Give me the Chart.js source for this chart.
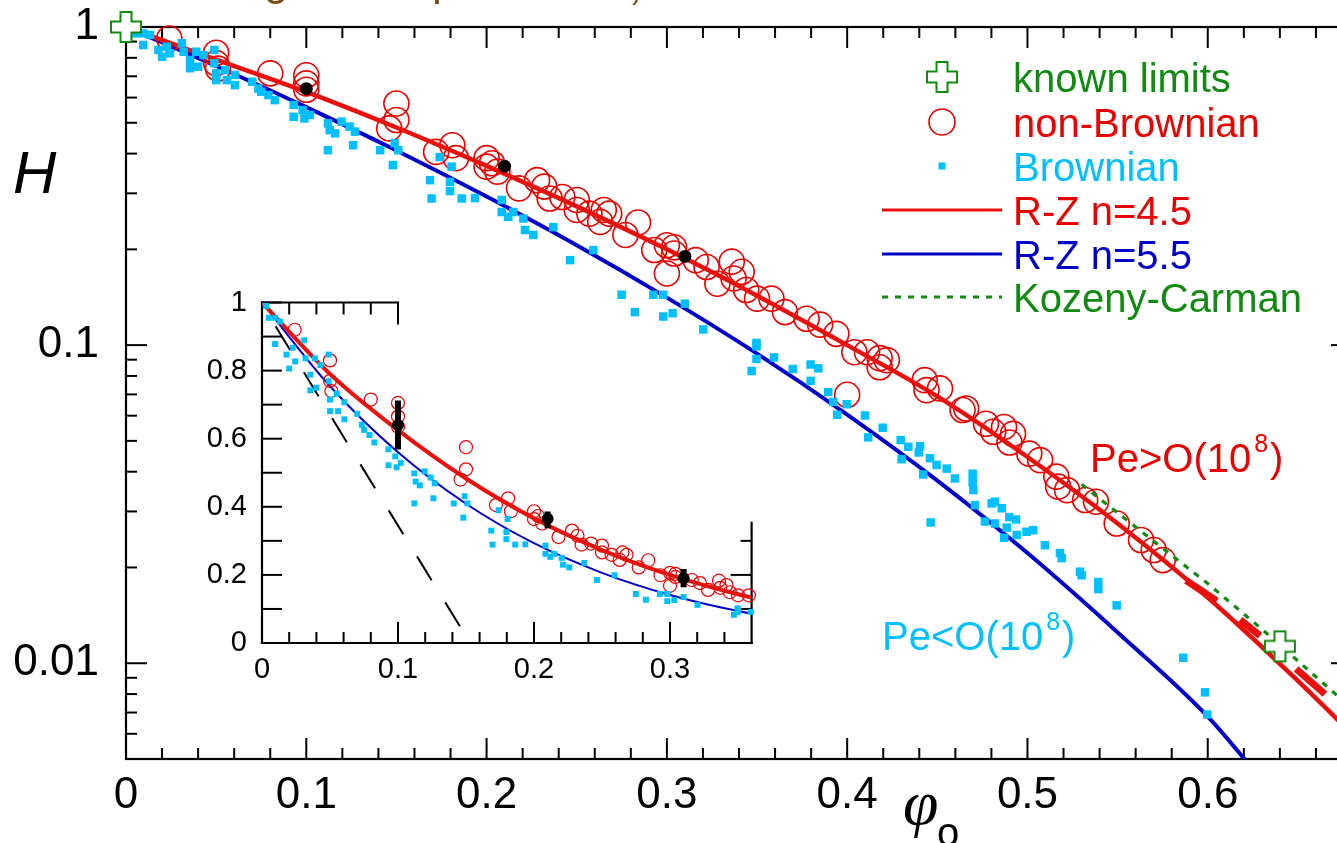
<!DOCTYPE html>
<html>
<head>
<meta charset="utf-8">
<title>Hindered settling function H</title>
<script src="https://cdn.jsdelivr.net/npm/chart.js@4.4.1/dist/chart.umd.min.js"></script>
<style>
  html, body { margin: 0; padding: 0; background: #fff; overflow: hidden; }
  #wrap { position: relative; width: 1337px; height: 843px; overflow: hidden; }
  #mainChart { position: absolute; left: 0; top: 0; }
  #insetChart { position: absolute; left: 180px; top: 270px; }
</style>
</head>
<body>
<div id="wrap">
  <canvas id="mainChart" width="1380" height="843"></canvas>
  <canvas id="insetChart" width="620" height="430"></canvas>
</div>
<script>
// ---- data (phi = volume fraction, H = hindered settling function) ----

// tick labels
const xTicks = [0, 0.1, 0.2, 0.3, 0.4, 0.5, 0.6];
const yTicks = [0.01, 0.1, 1];
const insetXTicks = [0, 0.1, 0.2, 0.3];
const insetYTicks = [0, 0.2, 0.4, 0.6, 0.8, 1];

// known limits
const knownPhi = [0, 0.64];
const knownH = [1, 0.0113];

// non-Brownian (open circles)
const nbPhi = [0.024, 0.050, 0.050, 0.051, 0.080, 0.100, 0.100, 0.100, 0.150, 0.150,
  0.146, 0.172, 0.181, 0.183, 0.200, 0.200, 0.203, 0.206, 0.218, 0.228,
  0.232, 0.235, 0.242, 0.250, 0.250, 0.257, 0.265, 0.263, 0.268, 0.277,
  0.284, 0.293, 0.300, 0.300, 0.304, 0.304, 0.316, 0.322, 0.328, 0.336,
  0.337, 0.3415, 0.344, 0.350, 0.358, 0.3655, 0.3775, 0.385, 0.394, 0.404,
  0.411, 0.418, 0.422, 0.418, 0.400, 0.443, 0.444, 0.4515, 0.464, 0.466,
  0.477, 0.481, 0.487, 0.490, 0.492, 0.501, 0.507, 0.516, 0.517, 0.522,
  0.532, 0.538, 0.5495, 0.563, 0.570, 0.575];
const nbH = [0.92, 0.83, 0.77, 0.74, 0.715, 0.705, 0.665, 0.635, 0.575, 0.51,
  0.48, 0.405, 0.425, 0.387, 0.387, 0.364, 0.373, 0.351, 0.311, 0.33,
  0.315, 0.289, 0.292, 0.286, 0.266, 0.259, 0.266, 0.244, 0.259, 0.222,
  0.243, 0.199, 0.206, 0.168, 0.194, 0.203, 0.185, 0.176, 0.156, 0.183,
  0.162, 0.17, 0.149, 0.14, 0.14, 0.127, 0.121, 0.116, 0.1085, 0.095,
  0.095, 0.091, 0.0897, 0.0852, 0.0698, 0.0776, 0.0722, 0.0731, 0.0625, 0.0632,
  0.0566, 0.0534, 0.0553, 0.0494, 0.0526, 0.0456, 0.0435, 0.0386, 0.0359, 0.035,
  0.0326, 0.0322, 0.0275, 0.0244, 0.0227, 0.0211];

// Brownian (filled squares)
const brPhi = [0.003, 0.005, 0.0096, 0.0096, 0.0133, 0.018, 0.020, 0.0226, 0.0244, 0.031,
  0.032, 0.0355, 0.0355, 0.039, 0.040, 0.043, 0.049, 0.049, 0.050, 0.050,
  0.055, 0.056, 0.0605, 0.0605, 0.070, 0.0734, 0.075, 0.079, 0.0826, 0.093,
  0.093, 0.098, 0.099, 0.102, 0.112, 0.113, 0.116, 0.112, 0.1196, 0.124,
  0.127, 0.126, 0.141, 0.149, 0.151, 0.148, 0.1686, 0.1695, 0.174, 0.1806,
  0.1797, 0.1797, 0.1862, 0.1936, 0.2084, 0.2084, 0.212, 0.2148, 0.2204, 0.2213,
  0.2259, 0.237, 0.2463, 0.2592, 0.2749, 0.2823, 0.2925, 0.298, 0.298, 0.3032,
  0.310, 0.3202, 0.3497, 0.3497, 0.3497, 0.347, 0.3594, 0.3698, 0.3797, 0.384,
  0.3797, 0.3895, 0.3923, 0.3997, 0.3945, 0.4099, 0.4197, 0.4117, 0.4297, 0.4339,
  0.4404, 0.4397, 0.4302, 0.4459, 0.4496, 0.4552, 0.4422, 0.4598, 0.4696, 0.4696,
  0.470, 0.4709, 0.4463, 0.4764, 0.4801, 0.482, 0.4857, 0.482, 0.4899, 0.4936,
  0.4885, 0.4871, 0.494, 0.4995, 0.5032, 0.5097, 0.518, 0.519, 0.5291, 0.530,
  0.5393, 0.5393, 0.5495, 0.5864, 0.5985, 0.5997];
const brH = [0.99, 0.955, 0.955, 0.878, 0.944, 0.847, 0.806, 0.867, 0.827, 0.889,
  0.836, 0.788, 0.742, 0.836, 0.75, 0.816, 0.847, 0.769, 0.715, 0.681,
  0.732, 0.681, 0.707, 0.657, 0.673, 0.641, 0.626, 0.611, 0.589, 0.569,
  0.522, 0.548, 0.516, 0.529, 0.498, 0.474, 0.463, 0.41, 0.504, 0.486,
  0.469, 0.425, 0.41, 0.431, 0.41, 0.368, 0.33, 0.289, 0.39, 0.364,
  0.326, 0.305, 0.289, 0.29, 0.286, 0.262, 0.253, 0.262, 0.25, 0.23,
  0.222, 0.235, 0.185, 0.199, 0.144, 0.127, 0.144, 0.144, 0.123, 0.126,
  0.135, 0.112, 0.1016, 0.0992, 0.0905, 0.0829, 0.0915, 0.0841, 0.0869, 0.0845,
  0.0772, 0.0712, 0.0663, 0.0652, 0.0604, 0.0601, 0.055, 0.0513, 0.0503, 0.0479,
  0.0481, 0.046, 0.0438, 0.0441, 0.042, 0.0409, 0.0392, 0.0381, 0.0394, 0.0371,
  0.035, 0.0314, 0.0277, 0.0279, 0.0318, 0.0322, 0.0307, 0.0275, 0.0288, 0.0283,
  0.0267, 0.0248, 0.0253, 0.0259, 0.0262, 0.0235, 0.0222, 0.0214, 0.0194, 0.0189,
  0.018, 0.0171, 0.0152, 0.0104, 0.0081, 0.0069];

// averaged points with error bars
const avgPhi = [0.1, 0.21, 0.31];
const avgH = [0.64, 0.365, 0.19];
const errPhi = [0.1, 0.1, null, 0.21, 0.21, null, 0.31, 0.31];
const errH = [0.568, 0.712, null, 0.337, 0.386, null, 0.164, 0.217];

// Richardson-Zaki curves and Kozeny-Carman
const rz45Phi = [0, 0.05, 0.1, 0.15, 0.2, 0.25, 0.3, 0.35, 0.4, 0.45, 0.5, 0.55, 0.6, 0.65, 0.68];
const rz45H = [1, 0.79, 0.625, 0.483, 0.366, 0.273, 0.2, 0.143, 0.1, 0.069, 0.0445, 0.0275, 0.0161, 0.0088, 0.006];
const rz45SegPhi = [0.588, 0.605, null, 0.618, 0.629, null, 0.649, 0.665];
const rz45SegH = [0.0182, 0.0157, null, 0.0137, 0.0122, null, 0.0096, 0.008];
const rz55Phi = [0, 0.05, 0.1, 0.15, 0.2, 0.25, 0.3, 0.35, 0.4, 0.45, 0.5, 0.55, 0.6, 0.63];
const rz55H = [1, 0.754, 0.56, 0.409, 0.293, 0.206, 0.141, 0.094, 0.0605, 0.0375, 0.0222, 0.0125, 0.0068, 0.0043];
const kcPhi = [0.53, 0.56, 0.6, 0.63, 0.68];
const kcH = [0.0365, 0.0268, 0.0178, 0.0128, 0.0072];

// dilute-limit straight line in the inset
const dilutePhi = [0.01, 0.146];
const diluteH = [0.93, 0.046];

// ---- helpers ----
const RED = '#e60000';
const RED_LINE = '#e8100c';
const BLUE = '#0000c8';
const CYAN = '#00bfff';
const GREEN = '#108a10';
const FONT = '"Liberation Sans", Arial, sans-serif';

Chart.defaults.font.family = FONT;
Chart.defaults.color = '#000';

function pts(xs, ys, maxX) {
    return xs.map((x, i) => ({ x: x, y: ys[i] }))
        .filter(p => maxX === undefined || p.x === null || p.x <= maxX);
}

function makeCross(size, arm, color) {
    const c = document.createElement('canvas');
    c.width = c.height = size + 4;
    const g = c.getContext('2d');
    const m = (size + 4) / 2, h = size / 2, a = arm / 2;
    g.beginPath();
    g.moveTo(m - a, m - h); g.lineTo(m + a, m - h); g.lineTo(m + a, m - a);
    g.lineTo(m + h, m - a); g.lineTo(m + h, m + a); g.lineTo(m + a, m + a);
    g.lineTo(m + a, m + h); g.lineTo(m - a, m + h); g.lineTo(m - a, m + a);
    g.lineTo(m - h, m + a); g.lineTo(m - h, m - a); g.lineTo(m - a, m - a);
    g.closePath();
    g.fillStyle = '#fff';
    g.fill();
    g.strokeStyle = color;
    g.lineWidth = 2;
    g.stroke();
    return c;
}
const crossImg = makeCross(30, 11, GREEN);

function seg(ctx, x1, y1, x2, y2) {
    ctx.beginPath();
    ctx.moveTo(x1, y1);
    ctx.lineTo(x2, y2);
    ctx.stroke();
}

function fmt(v) {
    return String(Number(v.toFixed(3)));
}

function drawPe(ctx, x, y, sign, color) {
    ctx.fillStyle = color;
    ctx.textAlign = 'left';
    ctx.textBaseline = 'alphabetic';
    ctx.font = '40px ' + FONT;
    const s = 'Pe' + sign + 'O(10';
    ctx.fillText(s, x, y);
    let w = ctx.measureText(s).width + 3;
    ctx.font = '25px ' + FONT;
    ctx.fillText('8', x + w, y - 20);
    w += ctx.measureText('8').width + 2;
    ctx.font = '40px ' + FONT;
    ctx.fillText(')', x + w, y);
}

// axes box, inward ticks of the main (log) plot
const mainFrame = {
    id: 'mainFrame',
    beforeDatasetsDraw(chart) {
        const { ctx, chartArea: a, scales: { x, y } } = chart;
        ctx.save();
        ctx.strokeStyle = '#000';
        ctx.lineWidth = 2.2;
        ctx.strokeRect(a.left, a.top, a.right - a.left, a.bottom - a.top);
        ctx.lineWidth = 2;
        for (let i = 0; i <= 34; i++) {
            const px = x.getPixelForValue(i * 0.02);
            const len = i % 5 === 0 ? 21 : 11;
            seg(ctx, px, a.bottom, px, a.bottom - len);
            seg(ctx, px, a.top, px, a.top + len);
        }
        [0.001, 0.01, 0.1].forEach(d => {
            for (let m = 1; m <= 9; m++) {
                const v = m * d;
                if (v < y.min - 1e-9 || v > y.max + 1e-9) continue;
                const py = y.getPixelForValue(v);
                const len = m === 1 ? 21 : 11;
                seg(ctx, a.left, py, a.left + len, py);
                seg(ctx, a.right, py, a.right - len, py);
            }
        });
        ctx.restore();
    },
    afterDraw(chart) {
        const ctx = chart.ctx;
        ctx.save();
        // title remnant at the top edge
        ctx.fillStyle = '#7a4a14';
        ctx.textBaseline = 'alphabetic';
        ctx.font = '44px ' + FONT;
        ctx.fillText('g', 264, -5);
        ctx.fillText('p', 432, -5);
        ctx.font = '28px ' + FONT;
        ctx.fillText('Pe)', 598, -1);

        // axis titles
        ctx.fillStyle = '#000';
        ctx.font = 'italic 60px ' + FONT;
        ctx.fillText('H', 13, 193);
        ctx.font = 'italic 64px "Liberation Serif", "DejaVu Serif", serif';
        ctx.fillText('\u03c6', 903, 824);
        ctx.font = '40px ' + FONT;
        ctx.fillText('o', 937, 846);

        // legend
        const sx = 942, tx = 1013;
        const rows = [77, 122, 166, 210, 254, 297];
        ctx.drawImage(crossImg, sx - crossImg.width / 2, rows[0] - crossImg.height / 2);
        ctx.strokeStyle = RED;
        ctx.lineWidth = 1.6;
        ctx.beginPath();
        ctx.arc(sx, rows[1], 13, 0, Math.PI * 2);
        ctx.stroke();
        ctx.fillStyle = CYAN;
        ctx.fillRect(sx - 3.5, rows[2] - 3.5, 7, 7);
        ctx.lineWidth = 3;
        ctx.strokeStyle = RED_LINE;
        seg(ctx, 882, rows[3], 1002, rows[3]);
        ctx.strokeStyle = BLUE;
        seg(ctx, 882, rows[4], 1002, rows[4]);
        ctx.strokeStyle = GREEN;
        ctx.setLineDash([6, 7]);
        seg(ctx, 882, rows[5], 1002, rows[5]);
        ctx.setLineDash([]);

        ctx.font = '40px ' + FONT;
        const labels = [
            ['known limits', GREEN], ['non-Brownian', RED], ['Brownian', CYAN],
            ['R-Z n=4.5', RED], ['R-Z n=5.5', BLUE], ['Kozeny-Carman', GREEN]
        ];
        labels.forEach((l, i) => {
            ctx.fillStyle = l[1];
            ctx.fillText(l[0], tx, rows[i] + 15);
        });

        // regime annotations
        drawPe(ctx, 1090, 472, '>', RED);
        drawPe(ctx, 882, 650, '<', CYAN);
        ctx.restore();
    }
};

// partial frame of the linear inset
const insetFrame = {
    id: 'insetFrame',
    beforeDatasetsDraw(chart) {
        const { ctx, scales: { x, y } } = chart;
        const x0 = x.getPixelForValue(0), x1 = x.getPixelForValue(0.36);
        const y0 = y.getPixelForValue(0), y1 = y.getPixelForValue(1);
        ctx.save();
        ctx.strokeStyle = '#000';
        ctx.lineWidth = 2.2;
        ctx.lineCap = 'square';
        seg(ctx, x0, y0, x0, y1);
        seg(ctx, x0, y0, x1, y0);
        seg(ctx, x0, y1, x.getPixelForValue(0.1), y1);
        seg(ctx, x1, y0, x1, y.getPixelForValue(0.353));
        ctx.lineCap = 'butt';
        ctx.lineWidth = 2;
        for (let i = 0; i <= 10; i++) {
            const py = y.getPixelForValue(i / 10);
            seg(ctx, x0, py, x0 + 20, py);
        }
        for (let i = 1; i <= 17; i++) {
            const px = x.getPixelForValue(i * 0.02);
            seg(ctx, px, y0, px, y0 - (i % 5 === 0 ? 21 : 11));
        }
        for (let i = 1; i <= 5; i++) {
            const px = x.getPixelForValue(i * 0.02);
            seg(ctx, px, y1, px, y1 + (i === 5 ? 22 : 12));
        }
        [0.1, 0.2, 0.3].forEach(v => {
            const py = y.getPixelForValue(v);
            seg(ctx, x1, py, x1 - (v === 0.2 ? 21 : 11), py);
        });
        ctx.restore();
    }
};

function fixedTicks(list) {
    return function (scale) {
        scale.ticks = list.map(v => ({ value: v }));
    };
}

// keep the label overhang from pushing the plot area around
function fitWidth(w) {
    return function (s) {
        s.width = w;
        s.paddingTop = 0;
        s.paddingBottom = 0;
    };
}
function fitHeight(h) {
    return function (s) {
        s.height = h;
        s.paddingLeft = 0;
        s.paddingRight = 0;
    };
}

// ---- main chart ----
new Chart(document.getElementById('mainChart'), {
    type: 'scatter',
    data: {
        datasets: [
            { label: 'average', data: pts(avgPhi, avgH), pointRadius: 6.5,
              backgroundColor: '#000', borderColor: '#000', borderWidth: 0, clip: false },
            { label: 'known limits', data: pts(knownPhi, knownH), pointStyle: crossImg, clip: false },
            { label: 'Brownian', data: pts(brPhi, brH), pointStyle: 'rect', pointRadius: 6,
              backgroundColor: CYAN, borderWidth: 0, clip: false },
            { label: 'Kozeny-Carman', data: pts(kcPhi, kcH), showLine: true, pointRadius: 0,
              borderColor: GREEN, borderWidth: 3.2, borderDash: [6, 7] },
            { label: 'R-Z segments', data: pts(rz45SegPhi, rz45SegH), showLine: true, pointRadius: 0,
              borderColor: RED_LINE, borderWidth: 7, spanGaps: false },
            { label: 'R-Z n=4.5', data: pts(rz45Phi, rz45H), showLine: true, pointRadius: 0,
              borderColor: RED_LINE, borderWidth: 4.5, cubicInterpolationMode: 'monotone' },
            { label: 'non-Brownian', data: pts(nbPhi, nbH), pointStyle: 'circle', pointRadius: 12.5,
              backgroundColor: 'rgba(0,0,0,0)', borderColor: RED, borderWidth: 1.6, clip: false },
            { label: 'R-Z n=5.5', data: pts(rz55Phi, rz55H), showLine: true, pointRadius: 0,
              borderColor: BLUE, borderWidth: 4, cubicInterpolationMode: 'monotone' }
        ]
    },
    options: {
        responsive: false,
        animation: false,
        devicePixelRatio: 1,
        events: [],
        layout: { padding: { top: 27, right: 28, left: 0, bottom: 0 } },
        plugins: { legend: { display: false }, tooltip: { enabled: false } },
        scales: {
            x: {
                type: 'linear', min: 0, max: 0.68,
                grid: { display: false, drawTicks: false },
                border: { display: false },
                afterBuildTicks: fixedTicks(xTicks),
                afterFit: fitHeight(84),
                ticks: { font: { size: 44 }, padding: 10, maxRotation: 0, callback: v => fmt(v) }
            },
            y: {
                type: 'logarithmic', min: 0.005, max: 1,
                grid: { display: false, drawTicks: false },
                border: { display: false },
                afterBuildTicks: fixedTicks(yTicks),
                afterFit: fitWidth(126),
                ticks: { font: { size: 44 }, padding: 27, callback: v => fmt(v) }
            }
        }
    },
    plugins: [mainFrame]
});

// ---- inset (linear axes) ----
const INSET_MAX = 0.36;
new Chart(document.getElementById('insetChart'), {
    type: 'scatter',
    data: {
        datasets: [
            { label: 'average', data: pts(avgPhi, avgH), pointRadius: 6,
              backgroundColor: '#000', borderWidth: 0, clip: false },
            { label: 'error', data: pts(errPhi, errH), showLine: true, pointRadius: 0,
              borderColor: '#000', borderWidth: 6, spanGaps: false },
            { label: 'Brownian', data: pts(brPhi, brH, INSET_MAX), pointStyle: 'rect', pointRadius: 4.2,
              backgroundColor: CYAN, borderWidth: 0, clip: false },
            { label: 'R-Z n=4.5', data: pts(rz45Phi, rz45H), showLine: true, pointRadius: 0,
              borderColor: RED_LINE, borderWidth: 4, cubicInterpolationMode: 'monotone' },
            { label: 'non-Brownian', data: pts(nbPhi, nbH, INSET_MAX), pointStyle: 'circle', pointRadius: 6.5,
              backgroundColor: 'rgba(0,0,0,0)', borderColor: RED, borderWidth: 1.2, clip: false },
            { label: 'R-Z n=5.5', data: pts(rz55Phi, rz55H), showLine: true, pointRadius: 0,
              borderColor: BLUE, borderWidth: 2, cubicInterpolationMode: 'monotone' },
            { label: 'dilute limit', data: pts(dilutePhi, diluteH), showLine: true, pointRadius: 0,
              borderColor: '#000', borderWidth: 2, borderDash: [28, 26] }
        ]
    },
    options: {
        responsive: false,
        animation: false,
        devicePixelRatio: 1,
        events: [],
        layout: { padding: { top: 32.5, right: 48.4, left: 0, bottom: 0 } },
        plugins: { legend: { display: false }, tooltip: { enabled: false } },
        scales: {
            x: {
                type: 'linear', min: 0, max: INSET_MAX,
                grid: { display: false, drawTicks: false },
                border: { display: false },
                afterBuildTicks: fixedTicks(insetXTicks),
                afterFit: fitHeight(57),
                ticks: { font: { size: 29 }, padding: 10, maxRotation: 0, callback: v => fmt(v) }
            },
            y: {
                type: 'linear', min: 0, max: 1,
                grid: { display: false, drawTicks: false },
                border: { display: false },
                afterBuildTicks: fixedTicks(insetYTicks),
                afterFit: fitWidth(82),
                ticks: { font: { size: 29 }, padding: 15, callback: v => fmt(v) }
            }
        }
    },
    plugins: [insetFrame]
});
</script>
</body>
</html>
